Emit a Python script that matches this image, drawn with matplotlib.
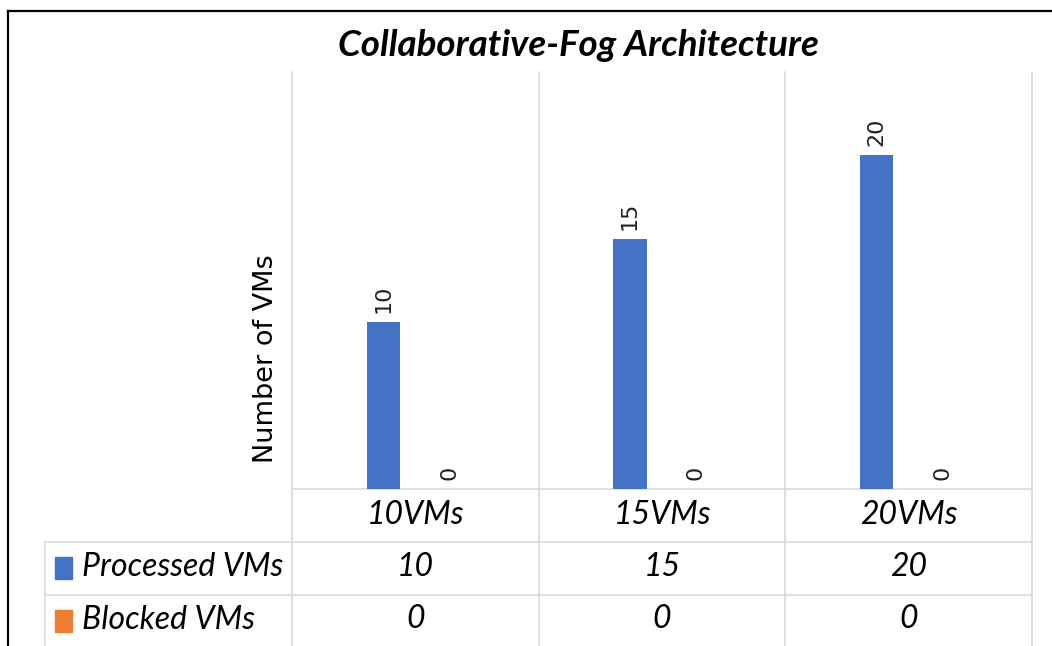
import matplotlib
matplotlib.use("Agg")
import matplotlib.pyplot as plt
from matplotlib.lines import Line2D

categories = ["10VMs", "15VMs", "20VMs"]
series_names = ["Processed VMs", "Blocked VMs"]
processed = [10, 15, 20]
blocked = [0, 0, 0]
colors = ["#4472C4", "#ED7D31"]

W, H = 1052, 646
FONT = "Lato"
GRID = "#d9d9d9"

fig = plt.figure(figsize=(W / 100, H / 100), dpi=100)

# pixel-space overlay for the frame, table and labels
ov = fig.add_axes([0, 0, 1, 1])
ov.set_xlim(0, W)
ov.set_ylim(H, 0)
ov.axis("off")

# plot area in pixels
px0, px1, py0, py1 = 292, 1032, 72, 489
ax = fig.add_axes([px0 / W, 1 - py1 / H, (px1 - px0) / W, (py1 - py0) / H])
ax.set_xlim(-0.5, len(categories) - 0.5)
ax.set_ylim(0, 25)
ax.axis("off")

bw = 0.135
offs = [-0.13, 0.137]
for vals, off, c in zip([processed, blocked], offs, colors):
    xs = [i + off for i in range(len(categories))]
    ax.bar(xs, vals, width=bw, color=c, zorder=3)
    for x, v in zip(xs, vals):
        ax.annotate(str(v), (x, v), xytext=(0, 6.5), textcoords="offset points",
                    rotation=90, ha="center", va="bottom", fontsize=16,
                    family="DejaVu Sans", color="#222222")

# category boundaries extend through the data table
colw = (px1 - px0) / len(categories)
for k in range(len(categories) + 1):
    x = px0 + k * colw
    ov.add_line(Line2D([x, x], [py0, H], color=GRID, lw=1.2))

# table row lines
row1, row2 = 542, 595
ov.add_line(Line2D([px0, px1], [py1, py1], color=GRID, lw=1.2))
ov.add_line(Line2D([45, px1], [row1, row1], color=GRID, lw=1.2))
ov.add_line(Line2D([45, px1], [row2, row2], color=GRID, lw=1.2))
ov.add_line(Line2D([45, 45], [row1, H], color=GRID, lw=1.2))

# outer frame
ov.add_line(Line2D([8, W], [11, 11], color="black", lw=1.6))
ov.add_line(Line2D([8, 8], [11, H], color="black", lw=1.6))

tstyle = dict(family=FONT, style="italic", fontsize=23, color="black",
              ha="center", va="center")
for k, cat in enumerate(categories):
    cx = px0 + (k + 0.5) * colw
    ov.text(cx, 515, cat, **tstyle)
    ov.text(cx, 567, str(processed[k]), **tstyle)
    ov.text(cx, 619, str(blocked[k]), **tstyle)

for name, c, y in zip(series_names, colors, [568, 621]):
    ov.add_patch(plt.Rectangle((55, y - 11), 17, 22, color=c))
    ov.text(82, y - 1, name, family=FONT, style="italic", fontsize=23,
            ha="left", va="center")

ov.text(578, 46, "Collaborative-Fog Architecture", family=FONT,
        style="italic", weight="bold", fontsize=26.5, ha="center", va="center")
ov.text(266, 359, "Number of VMs", family="DejaVu Sans", fontsize=19.5,
        rotation=90, ha="center", va="center")

fig.savefig("out.png", dpi=100)
